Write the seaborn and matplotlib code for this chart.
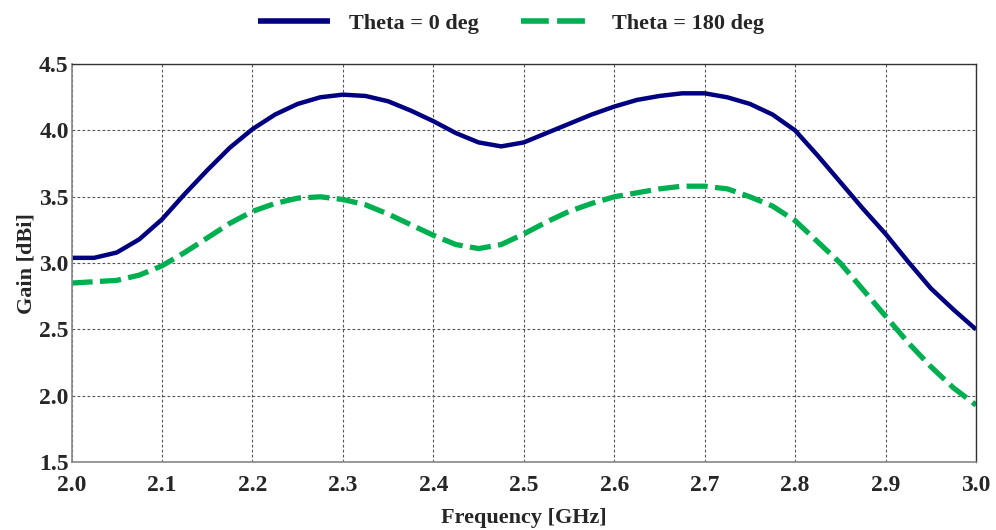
import numpy as np
import pandas as pd
import matplotlib
matplotlib.use("Agg")
import matplotlib.pyplot as plt
from matplotlib.lines import Line2D
from matplotlib.font_manager import FontProperties
import seaborn as sns

freq = [2.000, 2.025, 2.050, 2.075, 2.100, 2.125, 2.150, 2.175, 2.200, 2.225,
        2.250, 2.275, 2.300, 2.325, 2.350, 2.375, 2.400, 2.425, 2.450, 2.475,
        2.500, 2.525, 2.550, 2.575, 2.600, 2.625, 2.650, 2.675, 2.700, 2.725,
        2.750, 2.775, 2.800, 2.825, 2.850, 2.875, 2.900, 2.925, 2.950, 2.975,
        3.000]

gain_theta0 = [3.04, 3.04, 3.08, 3.18, 3.33, 3.52, 3.70, 3.87, 4.01, 4.12,
               4.20, 4.25, 4.27, 4.26, 4.22, 4.15, 4.07, 3.98, 3.91, 3.88,
               3.91, 3.98, 4.05, 4.12, 4.18, 4.23, 4.26, 4.28, 4.28, 4.25,
               4.20, 4.12, 4.00, 3.81, 3.61, 3.41, 3.22, 3.01, 2.81, 2.65,
               2.50]

gain_theta180 = [2.85, 2.86, 2.87, 2.91, 2.98, 3.08, 3.19, 3.30, 3.39, 3.45,
                 3.49, 3.50, 3.48, 3.44, 3.37, 3.29, 3.21, 3.14, 3.11, 3.14,
                 3.22, 3.31, 3.39, 3.45, 3.50, 3.53, 3.56, 3.58, 3.58, 3.56,
                 3.50, 3.43, 3.32, 3.16, 3.00, 2.80, 2.60, 2.40, 2.22, 2.06,
                 1.93]

series_names = ["Theta = 0 deg", "Theta = 180 deg"]
x_ticks = [2.0, 2.1, 2.2, 2.3, 2.4, 2.5, 2.6, 2.7, 2.8, 2.9, 3.0]
y_ticks = [1.5, 2.0, 2.5, 3.0, 3.5, 4.0, 4.5]

df = pd.DataFrame({
    "Frequency": freq * 2,
    "Gain": gain_theta0 + gain_theta180,
    "Series": [series_names[0]] * len(freq) + [series_names[1]] * len(freq),
})

sns.set_style("white")
plt.rcParams["font.family"] = ["Liberation Serif"]
plt.rcParams["font.weight"] = "bold"

def bold(size):
    return FontProperties(family="Liberation Serif", weight="bold", size=size)

fig = plt.figure(figsize=(9.96, 5.30), dpi=100)
ax = fig.add_axes([0.0718, 0.128, 0.98 - 0.0718, 0.879 - 0.128])

palette = {series_names[0]: "#000080", series_names[1]: "#00b050"}
sns.lineplot(data=df, x="Frequency", y="Gain", hue="Series", style="Series",
             palette=palette, dashes={series_names[0]: "", series_names[1]: (4, 1.4)},
             ax=ax, legend=False)
widths = [3.2, 3.8]
for line, lw in zip(ax.get_lines(), widths):
    line.set_linewidth(lw)
    line.set_solid_capstyle("butt")
    line.set_dash_capstyle("butt")

ax.set_xlim(2.0, 3.0)
ax.set_ylim(1.5, 4.5)
ax.set_xticks(x_ticks)
ax.set_yticks(y_ticks)
ax.set_xticklabels([f"{v:.1f}" for v in x_ticks], fontproperties=bold(17))
ax.set_yticklabels([f"{v:.1f}" for v in y_ticks], fontproperties=bold(17))
ax.tick_params(axis="x", length=0, pad=9)
ax.tick_params(axis="y", length=0, pad=2)

ax.grid(True, color="#555555", linestyle=(0, (2.5, 2)), linewidth=0.8)
for side in ["left", "bottom"]:
    ax.spines[side].set_color("#888888")
    ax.spines[side].set_linewidth(1.2)
for side in ["top", "right"]:
    ax.spines[side].set_color("#333333")
    ax.spines[side].set_linewidth(1.0)

ax.set_xlabel("Frequency [GHz]", fontproperties=bold(16), labelpad=9)
ax.set_ylabel("Gain [dBi]", fontproperties=bold(16), labelpad=2)

handles = [
    Line2D([], [], color=palette[series_names[0]], lw=4.0, solid_capstyle="butt"),
    Line2D([], [], color=palette[series_names[1]], lw=4.0, linestyle=(0, (5, 1.5)),
           dash_capstyle="butt"),
]
fig.legend(handles, series_names, loc="center", bbox_to_anchor=(0.513, 0.956),
           ncol=2, frameon=False, handlelength=3.25, columnspacing=1.9,
           handletextpad=0.85, prop=bold(16))

fig.savefig("out.png", dpi=100)
